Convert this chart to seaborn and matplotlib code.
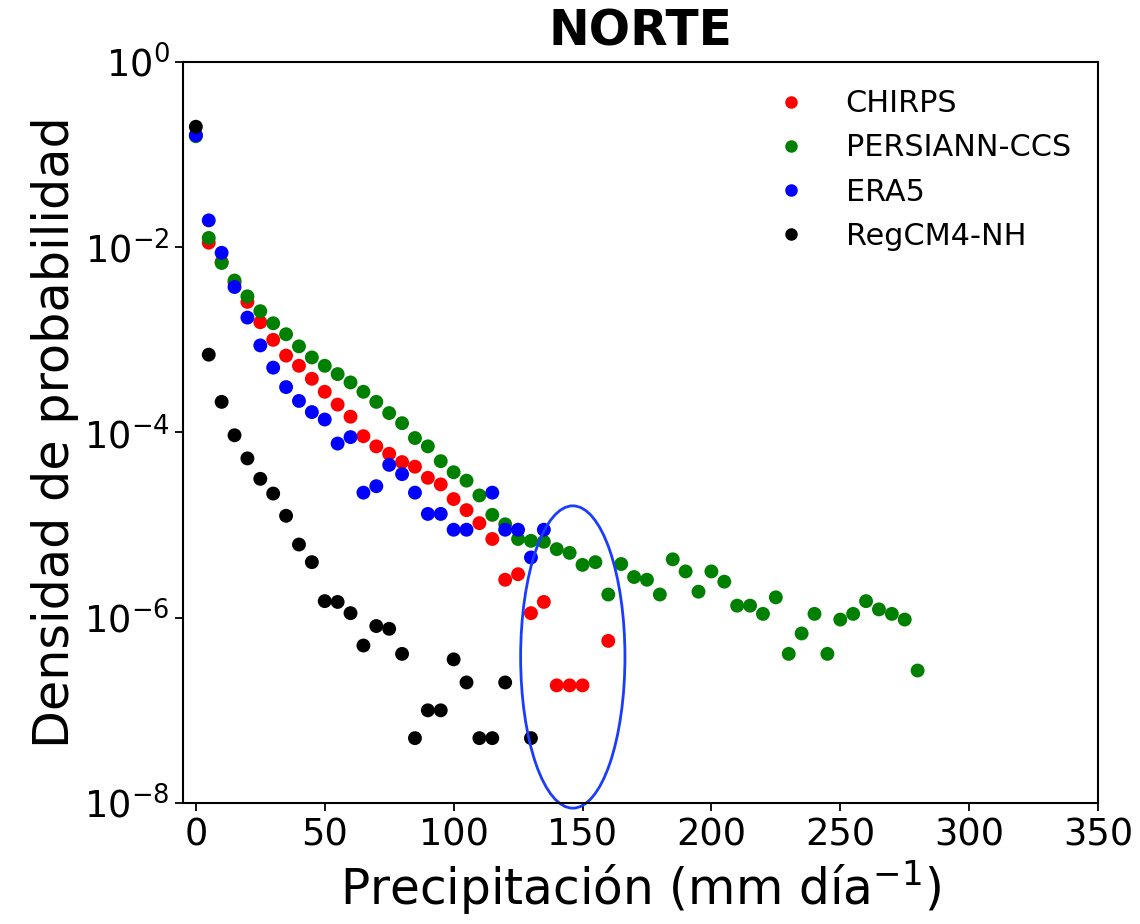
import numpy as np
import pandas as pd
import seaborn as sns
import matplotlib.pyplot as plt
from matplotlib.patches import Ellipse

# Densidad de probabilidad por intervalo de 5 mm/dia - region NORTE
chirps_x = [0, 5, 10, 15, 20, 25, 30, 35, 40, 45, 50, 55, 60, 65, 70, 75, 80, 85, 90, 95,
            100, 105, 110, 115, 120, 125, 130, 135, 140, 145, 150, 160]
chirps_y = [1.62e-1, 1.12e-2, 6.92e-3, 4.17e-3, 2.57e-3, 1.55e-3, 1.00e-3, 6.76e-4, 5.25e-4, 3.80e-4,
            2.75e-4, 2.00e-4, 1.48e-4, 9.12e-5, 7.08e-5, 5.89e-5, 4.79e-5, 4.27e-5, 3.24e-5, 2.75e-5,
            1.91e-5, 1.45e-5, 1.05e-5, 7.08e-6, 2.57e-6, 2.95e-6, 1.12e-6, 1.48e-6, 1.86e-7, 1.86e-7,
            1.86e-7, 5.62e-7]

persiann_x = [0, 5, 10, 15, 20, 25, 30, 35, 40, 45, 50, 55, 60, 65, 70, 75, 80, 85, 90, 95,
              100, 105, 110, 115, 120, 125, 130, 135, 140, 145, 150, 155, 160, 165, 170, 175, 180,
              185, 190, 195, 200, 205, 210, 215, 220, 225, 230, 235, 240, 245, 250, 255, 260, 265,
              270, 275, 280]
persiann_y = [1.58e-1, 1.26e-2, 6.76e-3, 4.37e-3, 2.95e-3, 2.04e-3, 1.51e-3, 1.15e-3, 8.51e-4, 6.46e-4,
              5.25e-4, 4.27e-4, 3.47e-4, 2.75e-4, 2.14e-4, 1.62e-4, 1.26e-4, 8.71e-5, 7.08e-5, 4.90e-5,
              3.72e-5, 3.02e-5, 2.09e-5, 1.29e-5, 1.02e-5, 7.08e-6, 6.76e-6, 6.61e-6, 5.50e-6, 5.01e-6,
              3.72e-6, 3.98e-6, 1.78e-6, 3.80e-6, 2.75e-6, 2.57e-6, 1.78e-6, 4.27e-6, 3.16e-6, 1.91e-6,
              3.16e-6, 2.45e-6, 1.35e-6, 1.35e-6, 1.10e-6, 1.66e-6, 4.07e-7, 6.76e-7, 1.10e-6, 4.07e-7,
              9.55e-7, 1.10e-6, 1.51e-6, 1.23e-6, 1.10e-6, 9.55e-7, 2.69e-7]

era5_x = [0, 5, 10, 15, 20, 25, 30, 35, 40, 45, 50, 55, 60, 65, 70, 75, 80, 85, 90, 95,
          100, 105, 115, 120, 125, 130, 135]
era5_y = [1.62e-1, 1.95e-2, 8.71e-3, 3.72e-3, 1.74e-3, 8.71e-4, 5.01e-4, 3.09e-4, 2.19e-4, 1.66e-4,
          1.38e-4, 7.59e-5, 8.91e-5, 2.24e-5, 2.63e-5, 4.47e-5, 3.55e-5, 2.24e-5, 1.32e-5, 1.32e-5,
          8.91e-6, 8.91e-6, 2.24e-5, 8.91e-6, 8.91e-6, 4.47e-6, 8.91e-6]

regcm_x = [0, 5, 10, 15, 20, 25, 30, 35, 40, 45, 50, 55, 60, 65, 70, 75, 80, 85, 90, 95,
           100, 105, 110, 115, 120, 130]
regcm_y = [2.00e-1, 6.92e-4, 2.14e-4, 9.33e-5, 5.25e-5, 3.16e-5, 2.19e-5, 1.26e-5, 6.17e-6, 3.98e-6,
           1.51e-6, 1.48e-6, 1.12e-6, 5.01e-7, 8.13e-7, 7.59e-7, 4.07e-7, 5.01e-8, 1.00e-7, 1.00e-7,
           3.55e-7, 2.00e-7, 5.01e-8, 5.01e-8, 2.00e-7, 5.01e-8]

series = ["CHIRPS", "PERSIANN-CCS", "ERA5", "RegCM4-NH"]
colores = ["red", "green", "blue", "black"]

frames = []
for name, xs, ys in zip(series,
                        [chirps_x, persiann_x, era5_x, regcm_x],
                        [chirps_y, persiann_y, era5_y, regcm_y]):
    frames.append(pd.DataFrame({"prec": xs, "pdf": ys, "fuente": name}))
df = pd.concat(frames, ignore_index=True)

sns.set_style("ticks", rc={"text.color": "black", "axes.labelcolor": "black",
                           "xtick.color": "black", "ytick.color": "black",
                           "axes.edgecolor": "black"})
plt.rcParams['font.family'] = ['DejaVu Sans']

fig = plt.figure(figsize=(11.4, 9.24), dpi=100)
ax = fig.add_axes([0.1605, 0.131, 0.8027, 0.8019])

sns.scatterplot(data=df, x="prec", y="pdf", hue="fuente", hue_order=series,
                palette=colores, s=100, linewidth=0, ax=ax)

ax.set_yscale("log")
ax.set_ylim(1e-8, 1)
ax.set_xlim(-5, 350)
ax.set_yticks([1e0, 1e-2, 1e-4, 1e-6, 1e-8])
ax.minorticks_off()
ax.set_xticks(np.arange(0, 351, 50))
ax.tick_params(axis="both", labelsize=26.5, length=6, width=1.3)
for sp in ax.spines.values():
    sp.set_linewidth(1.5)

ax.set_title("NORTE", fontsize=35, fontweight="bold", pad=12)
ax.set_xlabel(r"Precipitación (mm día$^{-1}$)", fontsize=35)
ax.set_ylabel("Densidad de probabilidad", fontsize=35.5)

leg = ax.legend(loc="upper right", fontsize=21.8, frameon=False, markerscale=0.9)

# resaltar la zona de la diferencia
ell = Ellipse((0.426, 0.197), 0.114, 0.408, transform=ax.transAxes,
              fill=False, edgecolor="#1a3cff", linewidth=2, clip_on=False)
ax.add_patch(ell)

fig.savefig("out.png", dpi=100)
